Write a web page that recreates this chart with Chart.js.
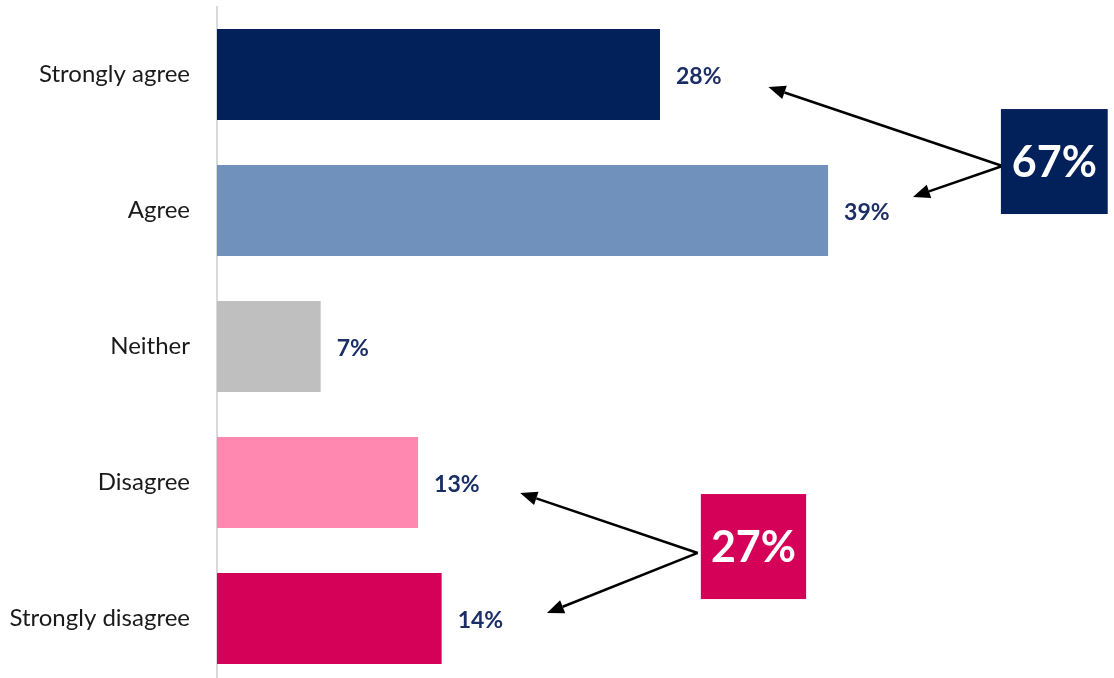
<!DOCTYPE html>
<html>
<head>
<meta charset="utf-8">
<script src="https://cdn.jsdelivr.net/npm/chart.js@4"></script>
<style>
  html, body { margin: 0; padding: 0; background: #fff; overflow: hidden; }
  canvas { display: block; }
</style>
</head>
<body>
<canvas id="canvas" width="1114" height="690"></canvas>
<script>
// categories and values (% of respondents)
const categories = ['Strongly agree', 'Agree', 'Neither', 'Disagree', 'Strongly disagree'];
const values = [28.2, 38.9, 6.6, 12.8, 14.3];
const barColors = ['#02215A', '#6F91BB', '#BFBFBF', '#FF88B0', '#D50057'];

// combined totals shown in the boxes
const totalLabels = ['67%', '27%'];
const totalColors = ['#02215A', '#D50057'];

// annotation layout in scale units (x = %, y = category index)
const boxes = [
    { x0: 49.9, x1: 56.7, y0: 0.254, y1: 1.026 },
    { x0: 30.8, x1: 37.5, y0: 3.085, y1: 3.857 }
];
const arrows = [
    { from: [50.0, 0.673], to: [[35.1, 0.092], [44.3, 0.90]] },
    { from: [30.6, 3.518], to: [[19.3, 3.077], [21.0, 3.96]] }
];

const FONT = 'Lato, "Open Sans", sans-serif';

function drawArrow(ctx, x1, y1, x2, y2) {
    const ang = Math.atan2(y2 - y1, x2 - x1);
    const len = 17, w = 7;
    const bx = x2 - len * Math.cos(ang), by = y2 - len * Math.sin(ang);
    ctx.beginPath();
    ctx.moveTo(x1, y1);
    ctx.lineTo(bx, by);
    ctx.stroke();
    ctx.beginPath();
    ctx.moveTo(x2, y2);
    ctx.lineTo(bx + w * Math.sin(ang), by - w * Math.cos(ang));
    ctx.lineTo(bx - w * Math.sin(ang), by + w * Math.cos(ang));
    ctx.closePath();
    ctx.fill();
}

const extras = {
    id: 'extras',
    afterDatasetsDraw(chart) {
        const ctx = chart.ctx;
        const xs = chart.scales.x, ys = chart.scales.y;
        ctx.save();

        // value labels at the end of each bar
        ctx.font = 'bold 23px ' + FONT;
        ctx.fillStyle = '#1B2F66';
        ctx.textAlign = 'left';
        ctx.textBaseline = 'middle';
        chart.getDatasetMeta(0).data.forEach((bar, i) => {
            ctx.fillText(Math.round(values[i]) + '%', bar.x + 16, bar.y + 2);
        });

        // arrows
        ctx.strokeStyle = '#000';
        ctx.fillStyle = '#000';
        ctx.lineWidth = 2.5;
        arrows.forEach(a => {
            const fx = xs.getPixelForValue(a.from[0]), fy = ys.getPixelForValue(a.from[1]);
            a.to.forEach(t => {
                drawArrow(ctx, fx, fy, xs.getPixelForValue(t[0]), ys.getPixelForValue(t[1]));
            });
        });

        // total boxes
        boxes.forEach((b, i) => {
            const l = xs.getPixelForValue(b.x0), r = xs.getPixelForValue(b.x1);
            const t = ys.getPixelForValue(b.y0), bt = ys.getPixelForValue(b.y1);
            ctx.fillStyle = totalColors[i];
            ctx.fillRect(l, t, r - l, bt - t);
            ctx.fillStyle = '#fff';
            ctx.font = 'bold 43px ' + FONT;
            ctx.textAlign = 'center';
            ctx.textBaseline = 'middle';
            ctx.fillText(totalLabels[i], (l + r) / 2, (t + bt) / 2 + 2);
        });
        ctx.restore();
    }
};

const ctx = document.getElementById('canvas').getContext('2d');
const chart = new Chart(ctx, {
    type: 'bar',
    data: {
        labels: categories,
        datasets: [{
            data: values,
            backgroundColor: barColors,
            borderWidth: 0,
            categoryPercentage: 1,
            barPercentage: 0.67
        }]
    },
    options: {
        indexAxis: 'y',
        responsive: false,
        animation: false,
        layout: { padding: { top: 6.5, bottom: 3.5, right: 0, left: 0 } },
        plugins: {
            legend: { display: false },
            tooltip: { enabled: false }
        },
        scales: {
            x: {
                display: false,
                min: 0,
                max: 57.1
            },
            y: {
                // fixed axis width; drop the label overhang padding (labels sit inside the bands)
                afterFit: s => { s.width = 217; s.paddingTop = 0; s.paddingBottom = 0; },
                grid: { display: false },
                border: { display: true, color: '#D9D9D9', width: 2 },
                ticks: {
                    padding: 19,
                    color: '#1a1a1a',
                    font: { family: FONT, size: 24 }
                }
            }
        }
    },
    plugins: [extras]
});
</script>
</body>
</html>
